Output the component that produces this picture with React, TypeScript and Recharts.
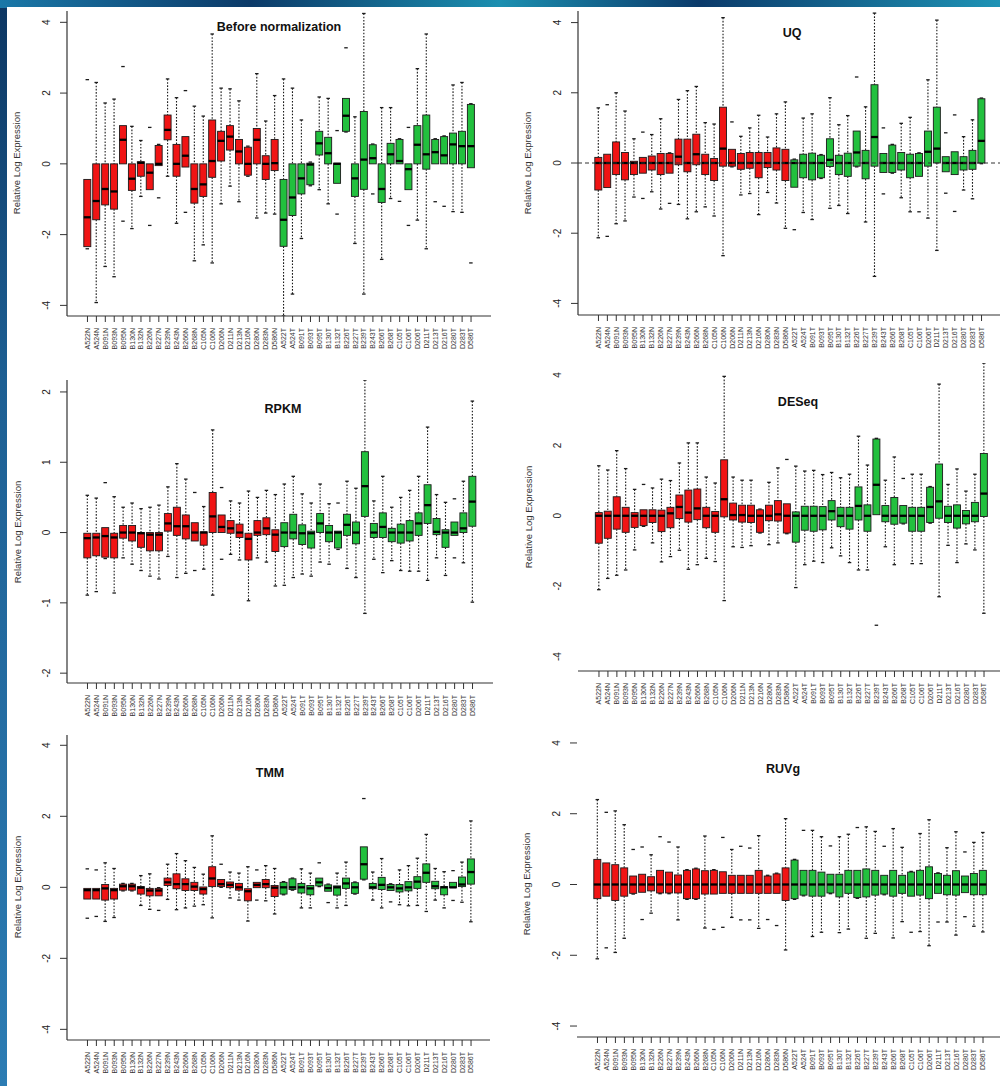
import React from 'react';
import { ComposedChart, Bar, XAxis, YAxis, ReferenceLine } from 'recharts';

// one box per sample: [whisker low, q1, median, q3, whisker high, dotted whisker visible]
type Stat = [number, number, number, number, number, number];

const sampleIds = ['A522', 'A524', 'B091', 'B093', 'B095', 'B130', 'B132', 'B226', 'B227', 'B239', 'B243',
  'B266', 'B268', 'C105', 'C106', 'D206', 'D211', 'D213', 'D216', 'D280', 'D283', 'D586'];
const normalLabels = sampleIds.map((s) => s + 'N');
const tumorLabels = sampleIds.map((s) => s + 'T');
const sampleLabels = [...normalLabels, ...tumorLabels];

const ticksWide = [-4, -2, 0, 2, 4];
const ticksNarrow = [-2, -1, 0, 1, 2];

const beforeStats: Stat[] = [
  [-2.4, -2.34, -1.51, -0.44, 2.38, 0], [-3.92, -1.58, -1.05, 0, 2.3, 1], [-2.9, -1.16, -0.71, 0, 1.72, 1],
  [-3.19, -1.28, -0.78, 0, 1.83, 1], [-1.62, 0, 0.68, 1.08, 2.75, 0], [-1.83, -0.75, -0.42, 0, 1.06, 1],
  [-0.92, -0.35, 0.03, 0.06, 0.66, 1], [-1.74, -0.73, -0.25, 0, 1.03, 0], [-0.96, -0.05, 0, 0.52, 0.55, 0],
  [-0.35, 0.68, 0.96, 1.38, 2.4, 1], [-1.68, -0.35, 0, 0.55, 1.87, 1], [-1.37, -0.09, 0.23, 0.77, 2.07, 0],
  [-2.74, -1.11, -0.71, 0, 1.63, 1], [-2.29, -0.92, -0.58, 0, 1.35, 1], [-2.8, -0.38, 0.08, 1.24, 3.67, 1],
  [-1.13, 0.08, 0.65, 0.92, 2.14, 1], [-0.63, 0.39, 0.77, 1.08, 2.12, 1], [-1.07, 0, 0.35, 0.69, 1.78, 1],
  [-0.35, -0.32, 0, 0.47, 0.5, 0], [-1.53, 0, 0.68, 1.0, 2.55, 1], [-1.39, -0.44, 0, 0.23, 1.21, 1],
  [-1.42, -0.19, 0.02, 0.69, 1.93, 1],
  [-4.3, -2.33, -1.58, -0.44, 2.4, 1], [-3.68, -1.46, -0.95, 0, 2.14, 1], [-2.11, -0.85, -0.41, 0, 1.24, 1],
  [-0.62, -0.59, -0.02, 0.02, 0.05, 0], [-0.73, 0.25, 0.58, 0.92, 1.89, 1], [-1.13, 0, 0.3, 0.75, 1.85, 1],
  [-1.42, -0.55, 0, 0.02, 0.94, 0], [0.9, 0.92, 1.36, 1.85, 3.28, 0], [-2.25, -0.92, -0.41, 0, 1.33, 1],
  [-3.68, -0.72, 0.12, 1.48, 4.25, 1], [-0.85, 0, 0.16, 0.54, 0.56, 0], [-2.7, -1.09, -0.71, 0, 1.59, 1],
  [-0.98, 0, 0.27, 0.58, 1.59, 1], [-1.06, 0, 0.08, 0.69, 0.71, 0], [-1.74, -0.73, -0.15, 0, 1.03, 0],
  [-1.59, 0, 0.54, 1.08, 2.69, 1], [-2.4, -0.15, 0.27, 1.38, 3.67, 1], [-1.07, 0, 0.33, 0.69, 0.71, 0],
  [-1.2, 0, 0.24, 0.77, 0.79, 0], [-1.35, 0, 0.55, 0.87, 2.23, 1], [-1.37, 0, 0.5, 0.92, 2.3, 1],
  [-2.8, -0.11, 0.5, 1.68, 1.7, 0],
];

const uqStats: Stat[] = [
  [-2.13, -0.77, 0, 0.16, 1.57, 1], [-2.09, -0.7, 0, 0.25, 1.66, 0], [-1.73, -0.33, 0, 0.6, 2.0, 1],
  [-1.65, -0.48, 0, 0.3, 1.48, 1], [-0.97, -0.33, 0, 0.05, 0.69, 1], [-1.01, -0.29, 0, 0.16, 0.88, 0],
  [-0.82, -0.2, 0, 0.2, 0.81, 1], [-1.31, -0.33, 0, 0.27, 1.26, 1], [-1.15, -0.29, 0, 0.27, 0.29, 0],
  [-1.18, -0.05, 0.18, 0.68, 1.81, 1], [-1.59, -0.25, 0, 0.68, 2.06, 1], [-1.39, -0.05, 0.25, 0.82, 2.18, 1],
  [-1.25, -0.33, 0, 0.25, 1.15, 1], [-1.51, -0.5, 0, 0.13, 1.11, 1], [-2.64, -0.09, 0.41, 1.59, 4.14, 1],
  [-0.11, -0.09, 0, 0.39, 1.17, 0], [-0.91, -0.18, 0, 0.27, 0.76, 1], [-0.87, -0.15, 0, 0.3, 1.0, 1],
  [-1.47, -0.42, 0, 0.3, 1.36, 1], [-0.84, -0.13, 0, 0.3, 0.74, 1], [-1.14, -0.2, 0, 0.43, 1.4, 1],
  [-1.86, -0.5, 0, 0.39, 1.74, 1],
  [-1.9, -0.69, 0, 0.09, 0.11, 0], [-1.41, -0.42, 0, 0.25, 1.28, 1], [-1.61, -0.48, 0, 0.28, 1.4, 1],
  [-0.44, -0.42, 0, 0.22, 0.24, 0], [-1.29, -0.1, 0.09, 0.69, 1.86, 1], [-1.21, -0.33, 0, 0.22, 1.09, 1],
  [-1.44, -0.38, 0, 0.28, 1.35, 1], [-0.11, -0.09, 0.3, 0.91, 2.45, 0], [-1.68, -0.45, 0, 0.36, 1.6, 1],
  [-3.23, -0.09, 0.74, 2.23, 4.27, 1], [-0.88, -0.27, 0, 0.27, 1.0, 0], [-0.29, -0.27, 0, 0.51, 0.53, 0],
  [-0.99, -0.2, 0, 0.3, 1.13, 1], [-1.39, -0.42, 0, 0.25, 1.3, 1], [-1.39, -0.38, 0, 0.27, 0.29, 0],
  [-1.57, -0.09, 0.32, 0.91, 2.37, 1], [-2.49, 0, 0.41, 1.59, 4.07, 1], [-0.86, -0.25, 0, 0.18, 0.86, 0],
  [-1.38, -0.33, 0, 0.32, 1.37, 0], [-0.77, -0.2, 0, 0.18, 0.75, 1], [-1.02, -0.18, 0, 0.36, 1.23, 1],
  [-0.02, 0, 0.63, 1.83, 1.85, 0],
];

const rpkmStats: Stat[] = [
  [-0.89, -0.36, -0.08, -0.01, 0.53, 1], [-0.84, -0.33, -0.07, -0.01, 0.49, 1], [-0.37, -0.35, -0.05, 0.07, 0.71, 0],
  [-0.86, -0.36, -0.07, -0.01, 0.51, 1], [-0.36, -0.08, 0, 0.1, 0.36, 1], [-0.45, -0.12, 0, 0.1, 0.42, 1],
  [-0.54, -0.21, -0.01, 0, 0.34, 1], [-0.62, -0.26, -0.03, 0, 0.36, 1], [-0.66, -0.26, -0.03, 0, 0.39, 1],
  [-0.34, 0.02, 0.13, 0.27, 0.65, 1], [-0.64, -0.04, 0.09, 0.36, 0.98, 1], [-0.58, -0.09, 0.09, 0.25, 0.76, 1],
  [-0.54, -0.12, 0, 0.14, 0.57, 0], [-0.52, -0.18, 0, 0.01, 0.37, 1], [-0.89, 0, 0.23, 0.57, 1.46, 1],
  [-0.38, 0, 0.08, 0.25, 0.64, 0], [-0.31, -0.01, 0.06, 0.17, 0.45, 1], [-0.39, -0.07, 0, 0.12, 0.42, 1],
  [-0.97, -0.39, -0.09, -0.01, 0.59, 1], [-0.36, -0.04, 0, 0.17, 0.5, 1], [-0.42, -0.03, 0.06, 0.21, 0.6, 1],
  [-0.76, -0.27, -0.03, 0.04, 0.54, 1],
  [-0.75, -0.2, 0, 0.14, 0.69, 1], [-0.64, -0.09, 0, 0.26, 0.8, 1], [-0.59, -0.17, -0.01, 0.11, 0.55, 1],
  [-0.62, -0.22, -0.01, 0.02, 0.42, 1], [-0.42, 0, 0.13, 0.27, 0.69, 1], [-0.45, -0.13, 0, 0.1, 0.41, 1],
  [-0.24, -0.22, 0, 0.02, 0.42, 0], [-0.51, -0.04, 0.11, 0.26, 0.73, 1], [-0.64, -0.16, 0, 0.15, 0.63, 1],
  [-1.15, 0.23, 0.66, 1.15, 2.17, 1], [-0.38, -0.07, 0, 0.13, 0.45, 1], [-0.57, -0.07, 0.08, 0.28, 0.8, 1],
  [-0.4, -0.13, 0, 0.06, 0.36, 1], [-0.54, -0.15, 0, 0.12, 0.5, 1], [-0.55, -0.12, 0, 0.17, 0.6, 1],
  [-0.55, -0.04, 0.13, 0.28, 0.8, 1], [-0.68, 0.13, 0.39, 0.68, 1.5, 1], [-0.36, -0.03, 0.01, 0.2, 0.54, 1],
  [-0.61, -0.21, 0, 0.04, 0.43, 1], [-0.36, -0.04, 0, 0.15, 0.48, 0], [-0.43, 0, 0.06, 0.28, 0.73, 1],
  [-0.99, 0.09, 0.44, 0.8, 1.87, 1],
];

const deseqStats: Stat[] = [
  [-2.1, -0.78, 0, 0.09, 1.42, 1], [-1.78, -0.64, 0, 0.13, 1.3, 1], [-1.69, -0.38, 0, 0.54, 1.85, 1],
  [-1.54, -0.47, 0, 0.24, 1.34, 1], [-0.97, -0.33, 0, 0.09, 0.75, 1], [-0.3, -0.28, 0, 0.17, 0.89, 0],
  [-0.77, -0.19, 0, 0.17, 0.79, 1], [-1.31, -0.45, 0, 0.16, 1.04, 1], [-1.16, -0.34, 0.07, 0.24, 1.0, 1],
  [-0.98, -0.08, 0.25, 0.59, 1.5, 1], [-1.52, -0.18, 0.09, 0.73, 2.07, 1], [-1.39, -0.11, 0.21, 0.76, 2.07, 1],
  [-1.21, -0.34, 0, 0.24, 1.1, 1], [-1.3, -0.47, 0, 0.12, 0.93, 1], [-2.41, -0.03, 0.47, 1.59, 3.96, 1],
  [-0.88, -0.12, 0.02, 0.36, 1.1, 1], [-0.9, -0.18, 0.02, 0.3, 1.01, 1], [-0.85, -0.19, 0, 0.3, 1.01, 1],
  [-0.49, -0.47, 0, 0.17, 0.19, 0], [-0.82, -0.14, 0, 0.3, 0.95, 1], [-0.77, -0.15, 0.04, 0.43, 1.36, 1],
  [-0.51, -0.49, 0, 0.34, 1.6, 0],
  [-2.04, -0.75, 0, 0.11, 1.41, 1], [-1.39, -0.41, 0, 0.27, 1.27, 1], [-1.29, -0.44, 0, 0.27, 1.29, 1],
  [-1.33, -0.4, 0, 0.26, 1.17, 1], [-0.91, -0.12, 0.13, 0.43, 1.23, 1], [-1.14, -0.31, 0, 0.24, 1.08, 1],
  [-1.33, -0.38, 0, 0.24, 1.18, 1], [-1.54, -0.12, 0.28, 0.82, 2.26, 1], [-1.54, -0.44, 0, 0.31, 1.44, 1],
  [-3.11, 0.03, 0.88, 2.18, 2.2, 0], [-0.88, -0.17, 0, 0.29, 1.01, 1], [-1.39, -0.24, 0, 0.52, 1.67, 1],
  [-0.23, -0.21, 0, 0.29, 1.06, 0], [-1.36, -0.44, 0, 0.24, 1.18, 1], [-1.36, -0.44, 0, 0.24, 1.18, 1],
  [-0.21, -0.19, 0.25, 0.81, 0.83, 0], [-2.3, -0.07, 0.41, 1.47, 3.74, 1], [-0.84, -0.19, 0, 0.27, 0.89, 1],
  [-1.33, -0.35, 0, 0.31, 1.33, 1], [-0.8, -0.23, 0, 0.15, 0.7, 1], [-0.97, -0.17, 0, 0.38, 1.18, 1],
  [-2.77, -0.02, 0.63, 1.77, 4.34, 1],
];

const tmmStats: Stat[] = [
  [-0.87, -0.33, -0.08, -0.03, 0.52, 0], [-0.82, -0.33, -0.08, -0.03, 0.49, 0], [-0.96, -0.36, -0.03, 0.08, 0.69, 1],
  [-0.85, -0.33, -0.08, -0.03, 0.53, 1], [-0.1, -0.08, 0.03, 0.09, 0.11, 0], [-0.1, -0.08, 0.03, 0.09, 0.11, 0],
  [-0.51, -0.19, -0.01, 0.02, 0.33, 1], [-0.62, -0.24, -0.09, -0.03, 0.38, 1], [-0.65, -0.24, -0.09, -0.03, -0.01, 0],
  [-0.34, 0.05, 0.14, 0.26, 0.65, 1], [-0.63, -0.04, 0.09, 0.38, 0.95, 1], [-0.58, -0.09, 0.09, 0.24, 0.75, 1],
  [-0.53, -0.09, 0.02, 0.14, 0.56, 1], [-0.49, -0.19, -0.05, 0.01, 0.37, 1], [-0.86, 0.02, 0.25, 0.58, 1.45, 1],
  [0, 0.02, 0.09, 0.22, 0.65, 0], [-0.3, -0.01, 0.07, 0.15, 0.43, 1], [-0.36, -0.08, 0, 0.11, 0.4, 1],
  [-0.95, -0.38, -0.11, -0.04, 0.58, 1], [-0.36, -0.01, 0.07, 0.14, 0.49, 0], [-0.38, -0.01, 0.09, 0.22, 0.61, 1],
  [-0.75, -0.26, -0.01, 0.05, 0.53, 1],
  [-0.21, -0.19, 0, 0.14, 0.16, 0], [-0.08, -0.06, 0, 0.24, 0.26, 0], [-0.58, -0.16, 0, 0.11, 0.52, 1],
  [-0.58, -0.21, -0.03, 0.05, 0.4, 1], [0.02, 0.04, 0.14, 0.26, 0.69, 0], [-0.43, -0.11, -0.02, 0.07, 0.09, 0],
  [-0.58, -0.22, 0, 0.04, 0.4, 1], [-0.51, -0.03, 0.11, 0.26, 0.71, 1], [-0.19, -0.17, 0, 0.13, 0.15, 0],
  [0.21, 0.23, 0.65, 1.14, 2.5, 0], [-0.36, -0.04, 0, 0.11, 0.43, 1], [-0.58, -0.06, 0.07, 0.28, 0.81, 1],
  [-0.41, -0.09, 0, 0.08, 0.1, 0], [-0.49, -0.13, -0.03, 0.08, 0.49, 1], [-0.52, -0.1, 0, 0.16, 0.61, 1],
  [-0.51, -0.03, 0.16, 0.3, 0.82, 1], [-0.68, 0.14, 0.41, 0.66, 1.49, 1], [-0.36, -0.04, 0.03, 0.17, 0.53, 1],
  [-0.58, -0.21, 0, 0.02, 0.44, 1], [-0.37, -0.01, 0, 0.14, 0.47, 0], [-0.42, 0.02, 0.08, 0.29, 0.71, 1],
  [-0.97, 0.09, 0.43, 0.8, 1.87, 1],
];

const ruvgStats: Stat[] = [
  [-2.1, -0.4, 0, 0.71, 2.4, 1], [-1.79, -0.33, 0, 0.61, 2.04, 0], [-1.92, -0.45, 0, 0.56, 2.08, 1],
  [-1.52, -0.33, 0, 0.47, 1.69, 1], [-0.27, -0.25, 0, 0.24, 0.99, 0], [-0.99, -0.22, 0, 0.29, 1.06, 0],
  [-0.81, -0.18, 0, 0.22, 0.84, 1], [-0.26, -0.24, 0, 0.4, 1.35, 0], [-0.26, -0.24, 0, 0.35, 1.2, 0],
  [-1.0, -0.24, 0, 0.27, 1.06, 1], [-0.42, -0.4, 0, 0.4, 0.42, 0], [-0.42, -0.4, 0, 0.44, 0.46, 0],
  [-1.23, -0.27, 0, 0.39, 1.37, 1], [-1.27, -0.27, 0, 0.4, 0.42, 0], [-1.21, -0.25, 0, 0.36, 1.33, 0],
  [-0.93, -0.25, 0, 0.26, 0.99, 1], [-1.0, -0.25, 0, 0.26, 1.08, 0], [-1.0, -0.25, 0, 0.26, 1.03, 0],
  [-1.24, -0.25, 0, 0.4, 1.38, 1], [-0.99, -0.25, 0, 0.24, 0.26, 0], [-1.16, -0.25, 0, 0.3, 0.32, 0],
  [-1.85, -0.45, 0, 0.47, 1.86, 1],
  [-0.42, -0.4, 0, 0.69, 0.71, 0], [-0.32, -0.3, 0, 0.4, 1.53, 0], [-1.47, -0.33, 0, 0.4, 1.53, 1],
  [-1.35, -0.33, 0, 0.35, 1.35, 1], [-0.26, -0.24, 0, 0.29, 1.09, 0], [-1.36, -0.35, 0, 0.29, 1.35, 1],
  [-1.26, -0.25, 0, 0.4, 1.42, 1], [-0.39, -0.37, 0, 0.4, 1.61, 0], [-1.52, -0.35, 0, 0.44, 1.63, 1],
  [-1.38, -0.3, 0, 0.4, 1.5, 1], [-0.29, -0.27, 0, 0.26, 1.08, 0], [-1.51, -0.33, 0, 0.4, 1.58, 1],
  [-1.05, -0.25, 0, 0.26, 1.05, 1], [-1.35, -0.33, 0, 0.35, 0.37, 0], [-1.33, -0.3, 0, 0.4, 1.44, 1],
  [-1.73, -0.4, 0, 0.5, 1.83, 1], [-1.06, -0.25, 0, 0.31, 0.33, 0], [-1.06, -0.29, 0, 0.26, 1.04, 1],
  [-1.43, -0.3, 0, 0.39, 1.49, 1], [-0.91, -0.23, 0, 0.24, 0.92, 0], [-1.18, -0.29, 0, 0.31, 1.19, 1],
  [-1.34, -0.29, 0, 0.4, 1.47, 1],
];

const FONT = '"Liberation Sans", Arial, Helvetica, sans-serif';
const RED = '#f01414';
const GREEN = '#22c03e';
const INK = '#1a1a1a';

interface PanelCfg {
  title: string;
  stats: Stat[];
  chart: [number, number, number, number]; // left, top, width, height
  plot: [number, number, number, number]; // left, top, right, bottom
  domain: [number, number];
  ticks: number[];
  pad: [number, number];
  top?: boolean;
  left?: boolean;
  right?: boolean;
  tickLine?: boolean;
  zero?: boolean;
  titleAt: [number, number];
  ylabAt: [number, number];
}

const panels: PanelCfg[] = [
  { title: 'Before normalization', stats: beforeStats, chart: [0, 0, 500, 362], plot: [67, 11, 491, 316],
    domain: [-4.3, 4.32], ticks: ticksWide, pad: [16, 15.5], top: true, left: true, right: true, tickLine: true,
    titleAt: [279, 27], ylabAt: [16, 163] },
  { title: 'UQ', stats: uqStats, chart: [500, 0, 510, 362], plot: [578, 11, 1002, 315],
    domain: [-4.33, 4.33], ticks: ticksWide, pad: [16, 16], left: true, tickLine: true, zero: true,
    titleAt: [792, 33], ylabAt: [527, 163] },
  { title: 'RPKM', stats: rpkmStats, chart: [0, 362, 500, 362], plot: [67, 380, 493, 683],
    domain: [-2.14, 2.17], ticks: ticksNarrow, pad: [16, 16], left: true, right: true, tickLine: true,
    titleAt: [283, 409], ylabAt: [17, 532] },
  { title: 'DESeq', stats: deseqStats, chart: [500, 362, 510, 362], plot: [578, 363, 1004, 671],
    domain: [-4.41, 4.34], ticks: ticksWide, pad: [16.5, 15.5], top: true, tickLine: false,
    titleAt: [798, 402], ylabAt: [528, 517] },
  { title: 'TMM', stats: tmmStats, chart: [0, 724, 500, 362], plot: [67, 735, 490, 1040],
    domain: [-4.3, 4.29], ticks: ticksWide, pad: [16, 14.5], left: true, tickLine: true,
    titleAt: [270, 773], ylabAt: [17, 887] },
  { title: 'RUVg', stats: ruvgStats, chart: [500, 724, 510, 362], plot: [577, 732, 1003, 1037],
    domain: [-4.31, 4.31], ticks: ticksWide, pad: [16, 15.5], tickLine: true,
    titleAt: [783, 769], ylabAt: [526, 884] },
];

const YTick = (props: any) => {
  const { x, y, payload } = props;
  return (
    <text x={x} y={y} transform={`rotate(-90 ${x} ${y})`} textAnchor="middle" fontSize={10}
      fontFamily={FONT} fill="#222">{payload.value}</text>
  );
};

const XTick = (props: any) => {
  const { x, y, payload } = props;
  return (
    <text x={x} y={y} dy="0.35em" transform={`rotate(-90 ${x} ${y})`} textAnchor="end" fontSize={7}
      fontFamily={FONT} fill="#333">{payload.value}</text>
  );
};

// draws one R-style box: dotted whiskers with staples, filled box, thick median
const BoxShape = (props: any) => {
  const { x, y, width, height, payload, index } = props;
  const [lo, q1, med, q3, hi, line] = payload.stat as Stat;
  const top = Math.min(y, y + height);
  const bottom = Math.max(y, y + height);
  // pixel positions from the scale-given ends of the [lo, hi] range
  const py = (v: number) => top + ((hi - v) / (hi - lo)) * (bottom - top);
  const cx = x + width / 2;
  const cap = width * 0.25;
  const fill = index < 22 ? RED : GREEN;
  return (
    <g>
      {line === 1 && (
        <g stroke={INK} strokeWidth={1.1} strokeDasharray="1.6 1.6">
          <line x1={cx} x2={cx} y1={py(hi)} y2={py(q3)} />
          <line x1={cx} x2={cx} y1={py(q1)} y2={py(lo)} />
        </g>
      )}
      <line x1={cx - cap} x2={cx + cap} y1={py(hi)} y2={py(hi)} stroke={INK} strokeWidth={1.3} />
      <line x1={cx - cap} x2={cx + cap} y1={py(lo)} y2={py(lo)} stroke={INK} strokeWidth={1.3} />
      <rect x={x} y={py(q3)} width={width} height={Math.max(py(q1) - py(q3), 0.5)} fill={fill}
        stroke={INK} strokeWidth={0.9} />
      <line x1={x} x2={x + width} y1={py(med)} y2={py(med)} stroke="#000" strokeWidth={2.3} />
    </g>
  );
};

const axisStroke = { stroke: '#333', strokeWidth: 1.2 };

function BoxPanel({ cfg }: { cfg: PanelCfg }) {
  const [cl, ct, cw, ch] = cfg.chart;
  const [pl, pt, pr, pb] = cfg.plot;
  const rows = sampleLabels.map((name, i) => ({
    name,
    stat: cfg.stats[i],
    range: [cfg.stats[i][0], cfg.stats[i][4]],
  }));
  return (
    <div style={{ position: 'absolute', left: cl, top: ct, width: cw, height: ch }}>
      <ComposedChart width={cw} height={ch} data={rows} barCategoryGap="9%"
        margin={{ top: pt - ct, right: cl + cw - pr, bottom: 0, left: 0 }}>
        <XAxis dataKey="name" type="category" interval={0} height={ct + ch - pb}
          padding={{ left: cfg.pad[0], right: cfg.pad[1] }} axisLine={axisStroke}
          tickLine={{ stroke: '#333' }} tickSize={6} tickMargin={6} tick={<XTick />} />
        {cfg.top && (
          <XAxis xAxisId="top" orientation="top" dataKey="name" type="category" height={0}
            tick={false} tickLine={false} axisLine={axisStroke} />
        )}
        <YAxis type="number" domain={cfg.domain} ticks={cfg.ticks} allowDataOverflow width={pl - cl}
          axisLine={cfg.left ? axisStroke : false} tickLine={cfg.tickLine ? { stroke: '#333' } : false}
          tickSize={7} tickMargin={10} tick={<YTick />} />
        {cfg.right && (
          <YAxis yAxisId="right" orientation="right" type="number" domain={cfg.domain} allowDataOverflow
            width={0} tick={false} tickLine={false} axisLine={axisStroke} />
        )}
        {cfg.zero && <ReferenceLine y={0} stroke="#333" strokeWidth={1} strokeDasharray="4 3" />}
        <Bar dataKey="range" isAnimationActive={false} shape={<BoxShape />} />
      </ComposedChart>
      <div style={{
        position: 'absolute', left: cfg.titleAt[0] - cl, top: cfg.titleAt[1] - ct,
        transform: 'translate(-50%, -50%)', fontFamily: FONT, fontWeight: 'bold', fontSize: 12.5,
        color: '#111', whiteSpace: 'nowrap',
      }}>{cfg.title}</div>
      <div style={{
        position: 'absolute', left: cfg.ylabAt[0] - cl, top: cfg.ylabAt[1] - ct,
        transform: 'translate(-50%, -50%) rotate(-90deg)', fontFamily: FONT, fontSize: 9.5,
        color: '#333', whiteSpace: 'nowrap',
      }}>Relative Log Expression</div>
    </div>
  );
}

export default function App() {
  return (
    <div style={{
      position: 'absolute', left: 0, top: 0, width: 1000, height: 1086, overflow: 'hidden',
      background: 'linear-gradient(180deg, #0c3662 0%, #1d5f93 35%, #2c7cb3 100%)',
    }}>
      <div style={{
        position: 'absolute', left: 0, top: 0, width: 1000, height: 8,
        background: 'linear-gradient(90deg, #1a78a8 0%, #0c3a68 25%, #1b8fb0 50%, #0b3a6a 70%, #1e93b5 100%)',
      }} />
      <div style={{ position: 'absolute', left: 7, top: 7, right: 0, bottom: 0, background: '#fff' }} />
      {panels.map((p) => <BoxPanel key={p.title} cfg={p} />)}
    </div>
  );
}
